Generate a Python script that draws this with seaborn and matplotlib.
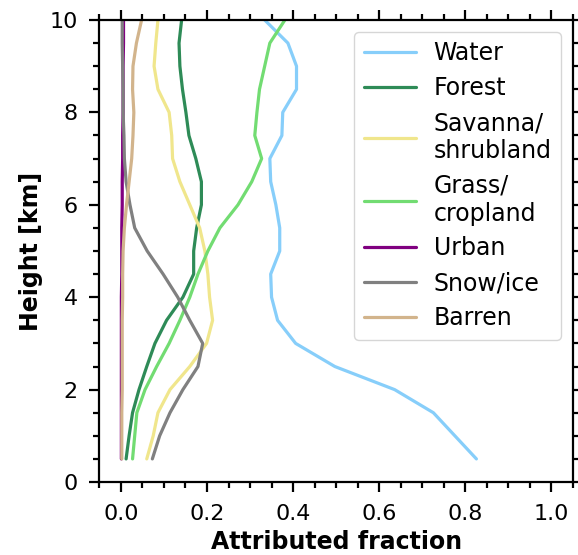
import numpy as np
import pandas as pd
import matplotlib.pyplot as plt
import seaborn as sns
from matplotlib.ticker import MultipleLocator

plt.switch_backend('Agg')

height = [0.5, 1.0, 1.5, 2.0, 2.5, 3.0, 3.5, 4.0, 4.5, 5.0,
          5.5, 6.0, 6.5, 7.0, 7.5, 8.0, 8.5, 9.0, 9.5, 10.0]

water = [0.826, 0.776, 0.726, 0.636, 0.497, 0.406, 0.364, 0.35, 0.348, 0.369,
         0.369, 0.36, 0.348, 0.346, 0.374, 0.376, 0.408, 0.408, 0.388, 0.334]
forest = [0.012, 0.019, 0.027, 0.042, 0.060, 0.079, 0.106, 0.144, 0.169, 0.169,
          0.176, 0.187, 0.187, 0.174, 0.158, 0.151, 0.143, 0.137, 0.135, 0.141]
savanna = [0.060, 0.075, 0.086, 0.114, 0.160, 0.199, 0.213, 0.206, 0.202, 0.195,
           0.183, 0.160, 0.137, 0.120, 0.118, 0.112, 0.086, 0.077, 0.081, 0.086]
grass = [0.027, 0.032, 0.037, 0.056, 0.083, 0.112, 0.137, 0.160, 0.179, 0.202,
         0.230, 0.272, 0.304, 0.327, 0.311, 0.316, 0.322, 0.334, 0.346, 0.381]
urban = [0.001, 0.001, 0.001, 0.001, 0.001, 0.001, 0.001, 0.001, 0.002, 0.002,
         0.002, 0.003, 0.003, 0.004, 0.004, 0.005, 0.005, 0.005, 0.006, 0.006]
snow = [0.073, 0.090, 0.114, 0.144, 0.179, 0.190, 0.160, 0.132, 0.098, 0.061,
        0.032, 0.021, 0.012, 0.008, 0.007, 0.005, 0.005, 0.004, 0.003, 0.003]
barren = [0.002, 0.002, 0.002, 0.003, 0.003, 0.003, 0.003, 0.004, 0.004, 0.005,
          0.008, 0.013, 0.019, 0.025, 0.028, 0.030, 0.027, 0.028, 0.036, 0.048]

labels = ['Water', 'Forest', 'Savanna/\nshrubland', 'Grass/\ncropland',
          'Urban', 'Snow/ice', 'Barren']
series = [water, forest, savanna, grass, urban, snow, barren]
colors = ['#87CEFA', '#2E8B57', '#F0E68C', '#72DC72', '#800080', '#808080', '#D2B48C']

rows = []
for lab, vals in zip(labels, series):
    for h, v in zip(height, vals):
        rows.append({'type': lab, 'height': h, 'fraction': v})
df = pd.DataFrame(rows)

sns.set_style('ticks')
plt.rcParams['font.family'] = ['DejaVu Sans']
plt.rcParams['text.color'] = 'black'
plt.rcParams['axes.labelcolor'] = 'black'
plt.rcParams['xtick.color'] = 'black'
plt.rcParams['ytick.color'] = 'black'

fig = plt.figure(figsize=(5.78, 5.55), dpi=100)
ax = fig.add_axes([0.172, 0.1315, 0.819, 0.8325])

sns.lineplot(data=df, x='fraction', y='height', hue='type', orient='y',
             palette=dict(zip(labels, colors)), hue_order=labels,
             linewidth=2.3, ax=ax, legend=False)

ax.set_xlim(-0.05, 1.05)
ax.set_ylim(0, 10)
ax.xaxis.set_major_locator(MultipleLocator(0.2))
ax.xaxis.set_minor_locator(MultipleLocator(0.05))
ax.yaxis.set_major_locator(MultipleLocator(2))
ax.yaxis.set_minor_locator(MultipleLocator(0.5))
ax.tick_params(which='both', direction='out', top=True, right=True, width=1.6,
               labelsize=16, pad=8)
ax.tick_params(which='major', length=7.5)
ax.tick_params(which='minor', length=4.3)
for sp in ax.spines.values():
    sp.set_linewidth(1.6)
    sp.set_color('black')

ax.set_xlabel('Attributed fraction', fontsize=17, fontweight='bold', labelpad=5)
ax.set_ylabel('Height [km]', fontsize=17, fontweight='bold', labelpad=5)

handles = ax.get_lines()
ax.legend(handles, labels, loc='upper right', fontsize=17, handlelength=2.2,
          handletextpad=0.75, labelspacing=0.46, borderaxespad=0,
          bbox_to_anchor=(561 / 578, 1 - 32 / 555), bbox_transform=fig.transFigure)

plt.savefig('out.png', dpi=100)
plt.close()
